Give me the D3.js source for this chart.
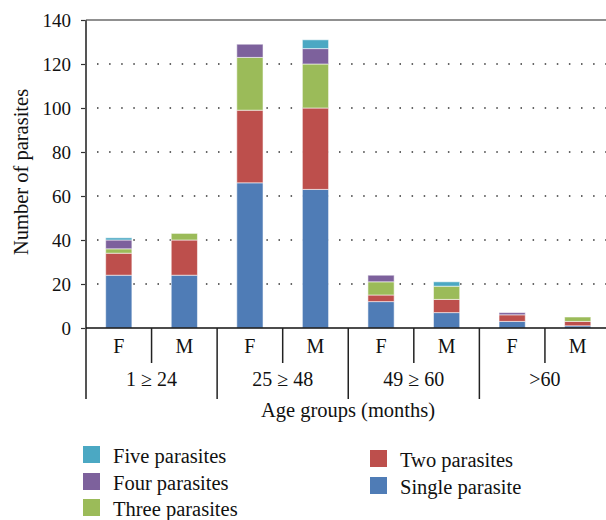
<!DOCTYPE html>
<html>
<head>
<meta charset="utf-8">
<script src="https://cdn.jsdelivr.net/npm/d3@7"></script>
<style>
  body { margin: 0; background: #fff; }
  svg text { font-family: "Liberation Serif", "DejaVu Serif", serif; fill: #111; }
</style>
</head>
<body>
<div id="chart"></div>
<script>
// categories
const ageGroups = ['1 \u2265 24', '25 \u2265 48', '49 \u2265 60', '>60'];
const sexes = ['F', 'M'];

// series values, one per bar (F, M for each age group)
const single = [24, 24, 66, 63, 12, 7, 3, 1];
const two    = [10, 16, 33, 37, 3, 6, 3, 2];
const three  = [2, 3, 24, 20, 6, 6, 0, 2];
const four   = [4, 0, 6, 7, 3, 0, 1, 0];
const five   = [1, 0, 0, 4, 0, 2, 0, 0];

const seriesNames = ['Single parasite', 'Two parasites', 'Three parasites', 'Four parasites', 'Five parasites'];
const yTicks = [0, 20, 40, 60, 80, 100, 120, 140];

const colors = {
  'Single parasite': '#4f7cb6',
  'Two parasites': '#bd4f4c',
  'Three parasites': '#9bbb59',
  'Four parasites': '#7d619c',
  'Five parasites': '#4ba8c3'
};

const width = 606, height = 520;
const margin = { L: 86, R: 610.5, T: 20, B: 328 };
const fontStack = '"Liberation Serif", "DejaVu Serif", serif';

const svg = d3.select('#chart').append('svg')
  .attr('width', width).attr('height', height);

// build table for stacking
const bars = [];
ageGroups.forEach((g, gi) => {
  sexes.forEach((s, si) => {
    const i = gi * 2 + si;
    bars.push({
      key: i, group: g, sex: s,
      'Single parasite': single[i],
      'Two parasites': two[i],
      'Three parasites': three[i],
      'Four parasites': four[i],
      'Five parasites': five[i]
    });
  });
});

const x = d3.scaleBand()
  .domain(bars.map(d => d.key))
  .range([margin.L, margin.R])
  .padding(0);

const y = d3.scaleLinear()
  .domain([0, 140])
  .range([margin.B, margin.T]);

// dotted gridlines
svg.append('g')
  .selectAll('line')
  .data(yTicks.filter(t => t > 0 && t < 140))
  .enter().append('line')
  .attr('x1', margin.L + 11).attr('x2', width)
  .attr('y1', d => y(d)).attr('y2', d => y(d))
  .attr('stroke', '#333')
  .attr('stroke-width', 1.5)
  .attr('stroke-dasharray', '1.5,10.6');

// top border
svg.append('line')
  .attr('x1', margin.L).attr('x2', width)
  .attr('y1', y(140)).attr('y2', y(140))
  .attr('stroke', '#222').attr('stroke-width', 1.2);

// stacked bars
const stack = d3.stack().keys(seriesNames);
const layers = stack(bars);
const barW = x.bandwidth() * 0.4;

svg.append('g')
  .selectAll('g')
  .data(layers)
  .enter().append('g')
  .attr('fill', d => colors[d.key])
  .selectAll('rect')
  .data(d => d.filter(p => p[1] - p[0] > 0))
  .enter().append('rect')
  .attr('x', d => x(d.data.key) + (x.bandwidth() - barW) / 2)
  .attr('width', barW)
  .attr('y', d => y(d[1]))
  .attr('height', d => y(d[0]) - y(d[1]))
  .attr('stroke', 'rgba(255,255,255,0.55)')
  .attr('stroke-width', 1);

// y axis
const yAxis = d3.axisLeft(y).tickValues(yTicks).tickSize(5).tickPadding(10);
const yG = svg.append('g')
  .attr('transform', `translate(${margin.L}, 0)`)
  .call(yAxis);
yG.attr('font-family', null).attr('font-size', null);
yG.select('.domain').remove();
yG.selectAll('.tick line').attr('stroke', '#333').attr('stroke-width', 1.2);
yG.selectAll('.tick text')
  .style('font-family', fontStack)
  .style('font-size', '19px')
  .attr('fill', '#111');

svg.append('line')
  .attr('x1', margin.L).attr('x2', margin.L)
  .attr('y1', margin.T).attr('y2', 399)
  .attr('stroke', '#555').attr('stroke-width', 2);

// x axis line
svg.append('line')
  .attr('x1', margin.L).attr('x2', width)
  .attr('y1', margin.B).attr('y2', margin.B)
  .attr('stroke', '#111').attr('stroke-width', 1.6);

// separators between bars
svg.append('g')
  .selectAll('line')
  .data(bars.filter(d => d.key > 0))
  .enter().append('line')
  .attr('x1', d => x(d.key)).attr('x2', d => x(d.key))
  .attr('y1', margin.B)
  .attr('y2', d => d.key % 2 === 0 ? 399 : 363)
  .attr('stroke', '#222')
  .attr('stroke-width', 1.5);

// F / M labels
svg.append('g')
  .selectAll('text')
  .data(bars)
  .enter().append('text')
  .attr('x', d => x(d.key) + x.bandwidth() / 2)
  .attr('y', 353)
  .attr('text-anchor', 'middle')
  .style('font-family', fontStack)
  .style('font-size', '20px')
  .text(d => d.sex);

// age group labels
svg.append('g')
  .selectAll('text')
  .data(ageGroups)
  .enter().append('text')
  .attr('x', (d, i) => x(i * 2 + 1))
  .attr('y', 386)
  .attr('text-anchor', 'middle')
  .style('font-family', fontStack)
  .style('font-size', '20px')
  .text(d => d);

// axis titles
svg.append('text')
  .attr('x', 348).attr('y', 417)
  .attr('text-anchor', 'middle')
  .style('font-family', fontStack)
  .style('font-size', '20.5px')
  .text('Age groups (months)');

svg.append('text')
  .attr('transform', 'translate(28, 172) rotate(-90)')
  .attr('text-anchor', 'middle')
  .style('font-family', fontStack)
  .style('font-size', '20.5px')
  .text('Number of parasites');

// legend
const legendItems = [
  { name: 'Five parasites', x: 83, y: 446 },
  { name: 'Four parasites', x: 83, y: 473 },
  { name: 'Three parasites', x: 83, y: 499 },
  { name: 'Two parasites', x: 370, y: 450 },
  { name: 'Single parasite', x: 370, y: 477 }
];
const lg = svg.append('g')
  .selectAll('g')
  .data(legendItems)
  .enter().append('g')
  .attr('transform', d => `translate(${d.x}, ${d.y})`);
lg.append('rect')
  .attr('width', 17).attr('height', 17)
  .attr('fill', d => colors[d.name]);
lg.append('text')
  .attr('x', 30).attr('y', 17)
  .style('font-family', fontStack)
  .style('font-size', '20.5px')
  .text(d => d.name);
</script>
</body>
</html>
